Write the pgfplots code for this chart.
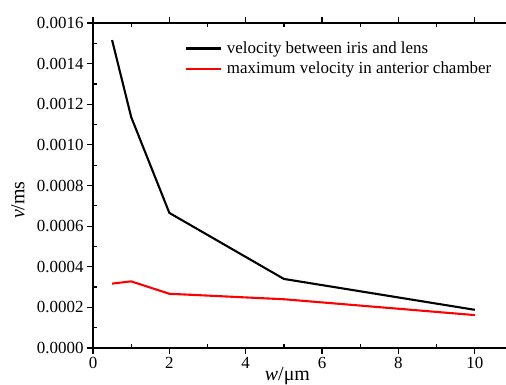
\documentclass[border=0pt]{standalone}
\usepackage{fontspec}
\setmainfont{Liberation Serif}
\usepackage{pgfplots}
\pgfplotsset{compat=1.18}

\begin{document}
\begin{tikzpicture}
\begin{axis}[
  name=ax,
  scale only axis,
  width=420bp, height=325bp,
  xmin=0, xmax=11,
  ymin=0, ymax=0.0016,
  xtick={0,2,4,6,8,10},
  minor x tick num=1,
  ytick={0,0.0002,0.0004,0.0006,0.0008,0.0010,0.0012,0.0014,0.0016},
  minor y tick num=1,
  scaled y ticks=false,
  yticklabel style={/pgf/number format/.cd, fixed, fixed zerofill, precision=4, assume math mode=true},
  xticklabel style={/pgf/number format/assume math mode=true},
  tick label style={font=\fontsize{17}{19}\selectfont},
  tick align=outside,
  major tick length=6bp,
  minor tick length=-4bp,
  axis line style={line width=1.5bp},
  every tick/.style={line width=1.2bp, black},
  xlabel={\textit{w}/μm},
  ylabel={\textit{v}/ms},
  label style={font=\fontsize{20}{22}\selectfont},
  x label style={at={(rel axis cs:0.463,0)}, anchor=base, yshift=-32bp},
  y label style={at={(rel axis cs:0,0.455)}, anchor=south, yshift=65bp},
  legend style={draw=none, fill=none, at={(rel axis cs:0.218,0.955)}, anchor=north west,
    font=\fontsize{17}{19}\selectfont, row sep=3bp, inner xsep=0bp,
    nodes={inner xsep=5bp}},
  legend cell align=left,
  legend image code/.code={\draw[#1, line width=2.2bp] (0bp,0bp) -- (35bp,0bp);},
]
\addplot[black, line width=2.1bp] coordinates {
  (0.5,0.001516) (1,0.001137) (2,0.000665) (5,0.00034) (10,0.000188)
};
\addlegendentry{velocity between iris and lens}
\addplot[red, line width=2.1bp] coordinates {
  (0.5,0.000317) (1,0.000328) (2,0.000267) (5,0.00024) (10,0.000162)
};
\addlegendentry{maximum velocity in anterior chamber}
\end{axis}
\pgfresetboundingbox
\path ([xshift=-93bp,yshift=-37bp]ax.south west) rectangle ([xshift=413bp,yshift=348bp]ax.south west);
\end{tikzpicture}
\end{document}
